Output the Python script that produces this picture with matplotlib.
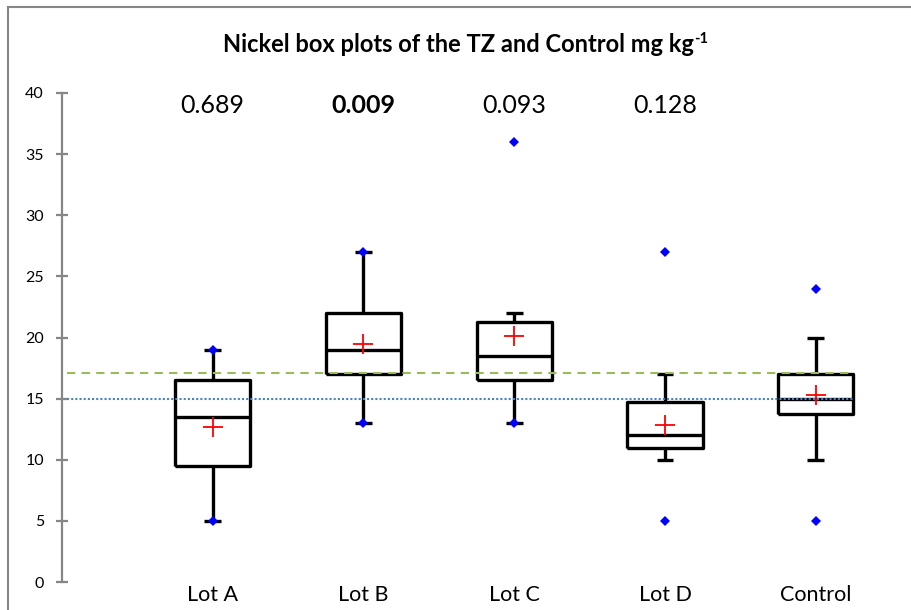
import matplotlib
matplotlib.use("Agg")
import matplotlib.pyplot as plt
from matplotlib.lines import Line2D

plt.rcParams['font.family'] = ['Lato', 'DejaVu Sans']

# Box plot summary values (mg/kg)
categories = ["Lot A", "Lot B", "Lot C", "Lot D", "Control"]
q1 = [9.5, 17.0, 16.5, 11.0, 13.75]
medians = [13.5, 19.0, 18.5, 12.0, 15.0]
q3 = [16.5, 22.0, 21.25, 14.75, 17.0]
whisker_lo = [5, 13, 13, 10, 10]
whisker_hi = [19, 27, 22, 17, 20]
means = [12.7, 19.5, 20.15, 12.85, 15.3]
data_min = [5, 13, 13, 5, 5]
data_max = [19, 27, 36, 27, 24]
p_values = ["0.689", "0.009", "0.093", "0.128"]
p_bold = [False, True, False, False]
green_level = 17.1
blue_level = 15.0

fig = plt.figure(figsize=(9.12, 6.10), dpi=100)
ax = fig.add_axes([62 / 912, 1 - 582 / 610, 850 / 912, (582 - 93) / 610])

xs = list(range(1, len(categories) + 1))
stats = []
for i in range(len(categories)):
    stats.append(dict(med=medians[i], q1=q1[i], q3=q3[i],
                      whislo=whisker_lo[i], whishi=whisker_hi[i],
                      mean=means[i], fliers=[]))

line_kw = dict(color='black', linewidth=2.4, solid_capstyle='butt')
ax.bxp(stats, positions=xs, widths=0.5, capwidths=0.11,
       showmeans=True, showfliers=False, patch_artist=False,
       boxprops=line_kw, whiskerprops=line_kw, capprops=line_kw,
       medianprops=line_kw,
       meanprops=dict(marker='+', markersize=14, markeredgewidth=1.3,
                      markeredgecolor='red', markerfacecolor='red'),
       manage_ticks=False, zorder=2)

# min / max points
ax.plot(xs, data_min, linestyle='none', marker='D', markersize=5.5,
        color='#0000FF', markeredgewidth=0, zorder=5)
ax.plot(xs, data_max, linestyle='none', marker='D', markersize=5.5,
        color='#0000FF', markeredgewidth=0, zorder=5)

# reference levels
ax.hlines(green_level, 0.03, 5.25, colors='#9BBB59', linewidth=1.5,
          linestyles=(0, (4, 3)), zorder=3)
ax.hlines(blue_level, 0.03, 5.25, colors='#4F81BD', linewidth=1.5,
          linestyles=(0, (1, 1)), zorder=3)

# p-values above the lots
for i, p in enumerate(p_values):
    ax.text(xs[i], 39.0, p, ha='center', va='center', fontsize=18,
            fontweight='bold' if p_bold[i] else 'normal', color='black')

ax.set_xlim(0, 850 / 150.75)
ax.set_ylim(0, 40)
ax.set_yticks(range(0, 41, 5))
ax.set_xticks(xs)
ax.set_xticklabels(categories, fontsize=15.5)
ax.tick_params(axis='x', length=0, pad=2)
ax.tick_params(axis='y', direction='inout', length=8, width=1.6,
               color='#868686', labelsize=11.5, pad=9)
for side in ['top', 'right', 'bottom']:
    ax.spines[side].set_visible(False)
ax.spines['left'].set_color('#868686')
ax.spines['left'].set_linewidth(1.6)

# title with superscript
title = fig.text(458 / 912, 1 - 45 / 610, "Nickel box plots of the TZ and Control mg kg",
                 ha='center', va='center', fontsize=17, fontweight='bold')
ax.annotate("-1", xy=(1, 1), xycoords=title, xytext=(0.5, 1), textcoords='offset points',
            ha='left', va='top', fontsize=10.5, fontweight='bold', annotation_clip=False)

# chart frame (left and top edges visible)
fig.add_artist(Line2D([8 / 912, 8 / 912], [0, 1 - 7 / 610], transform=fig.transFigure,
                      color='#868686', linewidth=1.5))
fig.add_artist(Line2D([8 / 912, 1], [1 - 7 / 610, 1 - 7 / 610], transform=fig.transFigure,
                      color='#868686', linewidth=1.5))

fig.savefig("out.png", dpi=100)
